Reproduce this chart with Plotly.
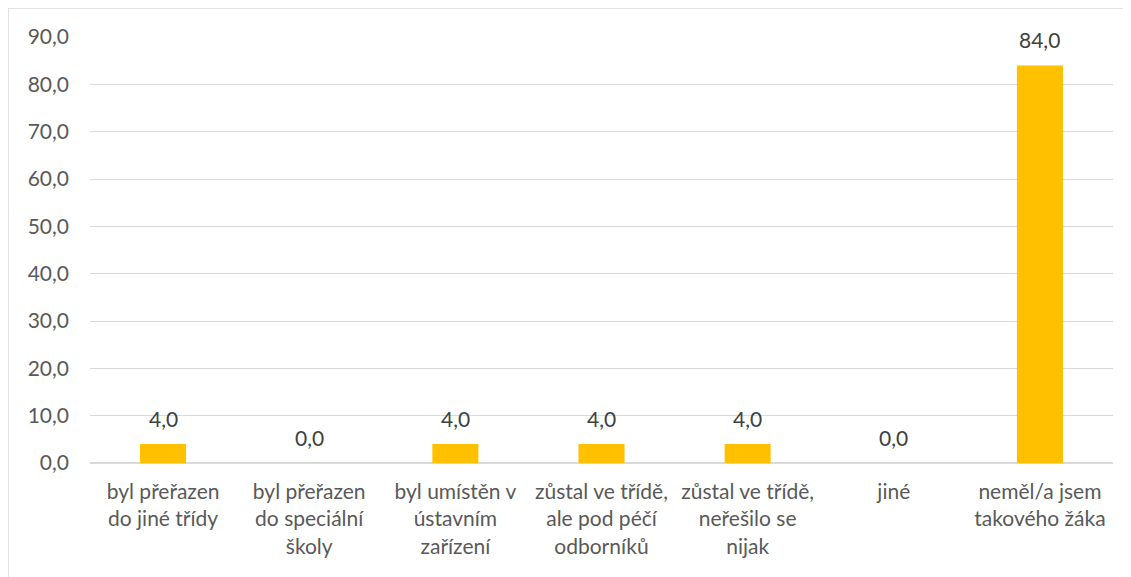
import plotly.graph_objects as go

categories = [
    "byl přeřazen<br>do jiné třídy",
    "byl přeřazen<br>do speciální<br>školy",
    "byl umístěn v<br>ústavním<br>zařízení",
    "zůstal ve třídě,<br>ale pod péčí<br>odborníků",
    "zůstal ve třídě,<br>neřešilo se<br>nijak",
    "jiné",
    "neměl/a jsem<br>takového žáka",
]
values = [4.0, 0.0, 4.0, 4.0, 4.0, 0.0, 84.0]
y_ticks = [0, 10, 20, 30, 40, 50, 60, 70, 80, 90]

# page body has an 8px margin, so the figure sits at (8, 8)
W, H = 1131, 577
L, R, T, B = 82, 26, 29, 122
pw = W - L - R
ph = H - T - B

font_family = "Lato, 'Open Sans', sans-serif"
fs = 21

fig = go.Figure()
fig.add_bar(
    x=categories, y=values,
    marker=dict(color="#FFC000", line=dict(width=0)),
    hoverinfo="x+y",
)

for c, v in zip(categories, values):
    fig.add_annotation(x=c, y=v, text=f"{v:.1f}".replace(".", ","),
                       showarrow=False, yanchor="middle", yshift=26,
                       font=dict(size=fs, color="#404040", family=font_family))

fig.update_layout(
    width=W, height=H,
    margin=dict(l=L, r=R, t=T, b=B, pad=0, autoexpand=False),
    paper_bgcolor="white", plot_bgcolor="white",
    separators=",.",
    bargap=0.685,
    showlegend=False,
    font=dict(family=font_family, size=fs, color="#595959"),
    xaxis=dict(showgrid=False, showline=False, ticks="", tickfont=dict(size=fs),
               tickangle=0, automargin=False, ticklabelstandoff=14),
    yaxis=dict(range=[0, 90], tickvals=y_ticks, tickformat=".1f",
               showgrid=True, gridcolor="#D9D9D9", gridwidth=1,
               zeroline=True, zerolinecolor="#D9D9D9", zerolinewidth=1.5,
               showline=False, ticks="", ticklabelstandoff=20,
               tickfont=dict(size=fs), automargin=False),
    shapes=[dict(
        type="rect", xref="paper", yref="paper",
        x0=(0 - L) / pw, x1=(W + 5 - L) / pw,
        y0=(H - 600 - B) / ph, y1=(H - 0 - B) / ph,
        line=dict(color="#D9D9D9", width=1.5), fillcolor="rgba(0,0,0,0)",
        layer="below",
    )],
)

fig.write_html("out.html")
